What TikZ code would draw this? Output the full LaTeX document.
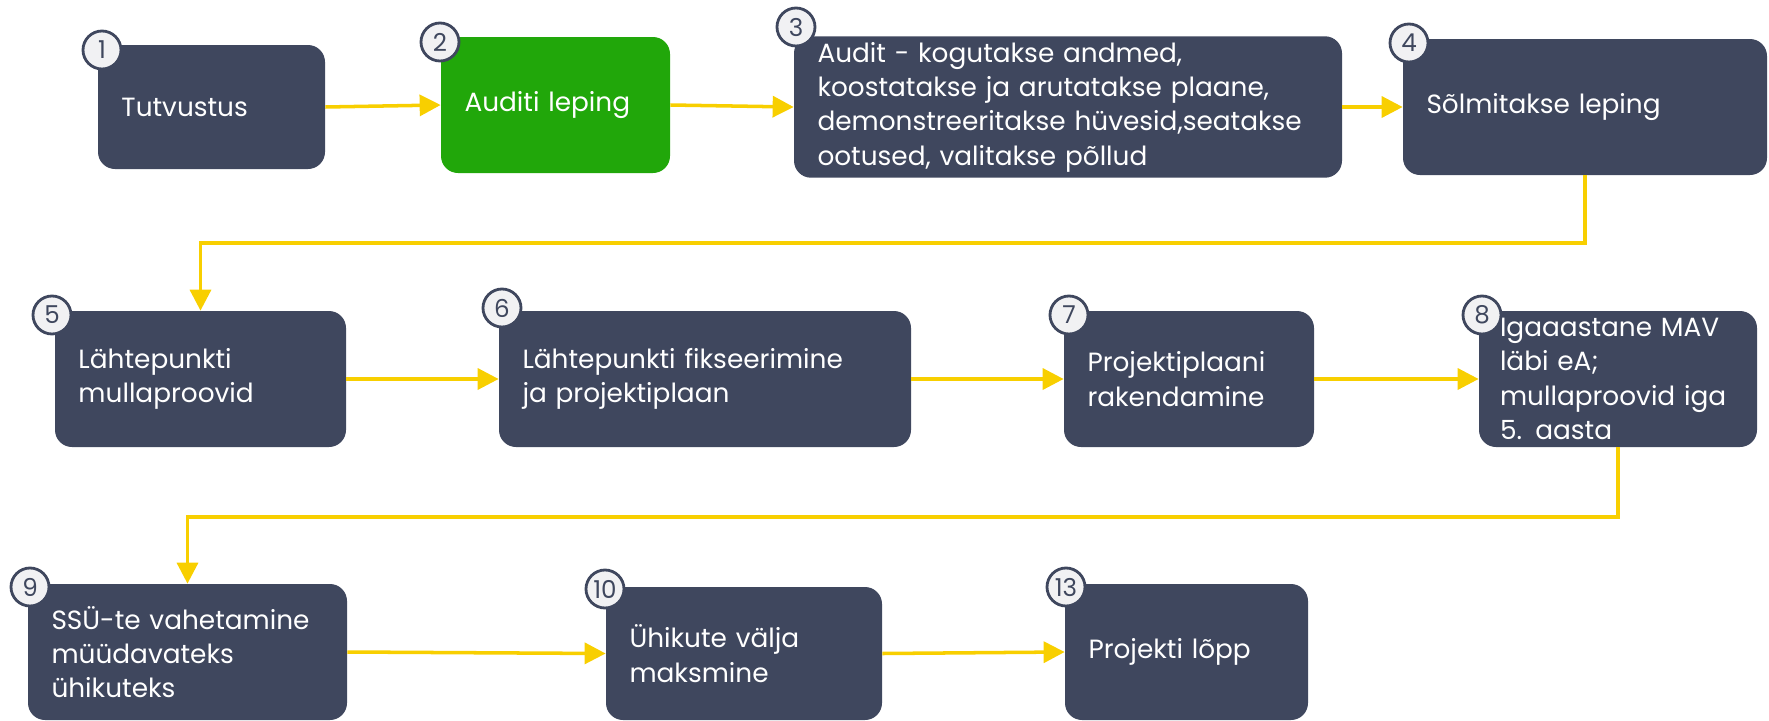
\documentclass[tikz,border=0pt]{standalone}
\usepackage{fontspec}
\setmainfont{Poppins}
\usetikzlibrary{arrows.meta}
\definecolor{slate}{HTML}{3F475E}
\definecolor{auditgreen}{HTML}{21A70A}
\definecolor{arrowyellow}{HTML}{F8CF00}
\definecolor{numfill}{HTML}{F1F1F3}

\begin{document}
\begin{tikzpicture}[
    stage/.style={fill=slate, rounded corners=0.34cm, text=white, align=left, minimum height=2.72cm, inner xsep=0.47cm, font=\fontsize{15}{19.5}\selectfont},
    number/.style={circle, draw=slate, line width=1.6pt, fill=numfill, text=slate, minimum size=0.76cm, inner sep=0pt, font=\fontsize{14}{14}\selectfont},
    flow/.style={draw=arrowyellow, line width=2pt, -{Triangle[length=0.42cm, width=0.42cm]}}
]
    \useasboundingbox (0,0) rectangle (35.38,-14.4);

    %Place first row nodes
    \node[stage, minimum height=2.48cm, text width=3.6cm] (tutvustus) at (4.23,-2.14) {Tutvustus};
    \node[stage, fill=auditgreen, text width=3.64cm] (leping) at (11.11,-2.10) {Auditi leping};
    \node[stage, text width=10.02cm] (audit) at (21.36,-2.14) {Audit - kogutakse andmed,\\ koostatakse ja arutatakse plaane,\\ demonstreeritakse hüvesid,seatakse\\ ootused, valitakse põllud};
    \node[stage, text width=6.34cm] (solmimine) at (31.70,-2.14) {Sõlmitakse leping};

    %Place second row nodes
    \node[stage, text width=4.88cm] (lahtepunkt) at (4.01,-7.58) {Lähtepunkti\\ mullaproovid};
    \node[stage, text width=7.30cm] (fikseerimine) at (14.10,-7.58) {Lähtepunkti fikseerimine\\ ja projektiplaan};
    \node[stage, text width=4.06cm] (rakendamine) at (23.78,-7.58) {Projektiplaani\\ rakendamine};
    \node[stage, inner xsep=0.42cm, text width=4.72cm] (mav) at (32.36,-7.58) {Igaaastane MAV\\ läbi eA;\\ mullaproovid iga\\ 5. aasta};

    %Place third row nodes
    \node[stage, text width=5.44cm] (vahetamine) at (3.75,-13.04) {SSÜ-te vahetamine\\ müüdavateks\\ ühikuteks};
    \node[stage, minimum height=2.66cm, text width=4.58cm] (maksmine) at (14.88,-13.07) {Ühikute välja\\ maksmine};
    \node[stage, text width=3.92cm] (lopp) at (23.73,-13.04) {Projekti lõpp};

    %Place number badges
    \node[number] (num1) at (2.04,-1.0) {1};
    \node[number] (num2) at (8.8,-0.84) {2};
    \node[number] (num3) at (15.92,-0.54) {3};
    \node[number] (num4) at (28.18,-0.86) {4};
    \node[number] (num5) at (1.04,-6.3) {5};
    \node[number] (num6) at (10.04,-6.16) {6};
    \node[number] (num7) at (21.38,-6.3) {7};
    \node[number] (num8) at (29.64,-6.3) {8};
    \node[number] (num9) at (0.6,-11.74) {9};
    \node[number] (num10) at (12.1,-11.78) {10};
    \node[number] (num13) at (21.32,-11.74) {13};

    %Bend points
    \coordinate (bend1) at (0,-4.86);
    \coordinate (bend2) at (0,-10.34);

    %Draw arrows
    \draw[flow] (tutvustus.east) -- (leping.west);
    \draw[flow] (leping.east) -- (audit.west);
    \draw[flow] (audit.east) -- (solmimine.west);
    \draw[flow] (solmimine.south) -- (solmimine.south |- bend1) -| (lahtepunkt.north);
    \draw[flow] (lahtepunkt.east) -- (fikseerimine.west);
    \draw[flow] (fikseerimine.east) -- (rakendamine.west);
    \draw[flow] (rakendamine.east) -- (mav.west);
    \draw[flow] (mav.south) -- (mav.south |- bend2) -| (vahetamine.north);
    \draw[flow] (vahetamine.east) -- (maksmine.west);
    \draw[flow] (maksmine.east) -- (lopp.west);
\end{tikzpicture}
\end{document}
